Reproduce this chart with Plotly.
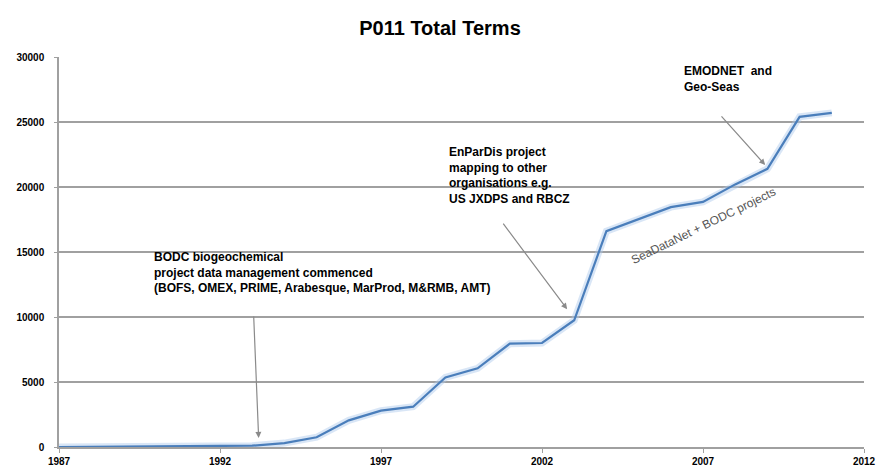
import plotly.graph_objects as go

# ---- data ----
years = list(range(1987, 2012))
terms = [0, 10, 20, 30, 40, 60, 100, 300, 750, 2050, 2800, 3100, 5350, 6050,
         7950, 8000, 9750, 16600, 17500, 18450, 18850, 20200, 21400, 25400, 25700]
x_ticks = [1987, 1992, 1997, 2002, 2007, 2012]
y_ticks = [0, 5000, 10000, 15000, 20000, 25000, 30000]

title_text = "P011 Total Terms"
note_bodc = ("BODC biogeochemical<br>project data management commenced<br>"
             "(BOFS, OMEX, PRIME, Arabesque, MarProd, M&RMB, AMT)")
note_enpardis = "EnParDis project<br>mapping to other<br>organisations e.g.<br>US JXDPS and RBCZ"
note_emodnet = "EMODNET  and<br>Geo-Seas"
note_sdn = "SeaDataNet + BODC projects"

FONT = "Liberation Sans, Arial, sans-serif"
GRID = "#a0a0a0"
ARROW = "#8a8a8a"

fig = go.Figure()
# soft halo under the line
fig.add_trace(go.Scatter(x=years, y=terms, mode="lines",
                         line=dict(color="rgba(170,200,235,0.45)", width=7),
                         hoverinfo="skip", showlegend=False))
fig.add_trace(go.Scatter(x=years, y=terms, mode="lines",
                         line=dict(color="#4a7ebb", width=2.2),
                         showlegend=False))

annotations = []
# text blocks
annotations.append(dict(x=1989.9, y=15300, xref="x", yref="y", text=note_bodc,
                        showarrow=False, xanchor="left", yanchor="top", align="left",
                        font=dict(family=FONT, size=12, color="black", weight="bold")))
annotations.append(dict(x=1999.05, y=23400, xref="x", yref="y", text=note_enpardis,
                        showarrow=False, xanchor="left", yanchor="top", align="left",
                        font=dict(family=FONT, size=12, color="black", weight="bold")))
annotations.append(dict(x=2006.35, y=29600, xref="x", yref="y", text=note_emodnet,
                        showarrow=False, xanchor="left", yanchor="top", align="left",
                        font=dict(family=FONT, size=12, color="black", weight="bold")))
annotations.append(dict(x=2007.0, y=17000, xref="x", yref="y", text=note_sdn,
                        showarrow=False, xanchor="center", yanchor="middle",
                        textangle=-26,
                        font=dict(family=FONT, size=12, color="#555555")))
# arrows
for tip_x, tip_y, ax, ay in [(1993.2, 700, -5, -123),
                             (2002.78, 10600, -65, -87),
                             (2008.93, 21700, -45, -50)]:
    annotations.append(dict(x=tip_x, y=tip_y, xref="x", yref="y", text="",
                            showarrow=True, ax=ax, ay=ay, arrowhead=2,
                            arrowsize=1, arrowwidth=1.2, arrowcolor=ARROW))

fig.update_layout(
    width=880, height=472,
    margin=dict(l=59, r=16, t=57, b=25),
    paper_bgcolor="white", plot_bgcolor="white",
    title=dict(text=title_text, x=0.5, xanchor="center", y=0.94, yanchor="middle",
               font=dict(family=FONT, size=20, color="black", weight="bold")),
    annotations=annotations,
    xaxis=dict(range=[1987, 2012], tickmode="array", tickvals=x_ticks,
               ticktext=[str(v) for v in x_ticks], automargin=False,
               showgrid=False, zeroline=False,
               showline=True, linecolor=GRID, linewidth=1.5,
               ticks="outside", ticklen=4, tickcolor=GRID,
               tickfont=dict(family=FONT, size=10, color="black", weight="bold")),
    yaxis=dict(range=[0, 30000], tickmode="array", tickvals=y_ticks,
               ticktext=[str(v) for v in y_ticks], automargin=False,
               showgrid=True, gridcolor=GRID, gridwidth=1.5, zeroline=False,
               showline=True, linecolor=GRID, linewidth=1.5,
               ticks="outside", ticklen=3, tickcolor=GRID, ticklabelstandoff=8,
               tickfont=dict(family=FONT, size=10, color="black", weight="bold")),
)

fig.write_html("out.html", config={"displayModeBar": False},
               post_script="document.body.style.margin='0';document.body.style.padding='0';")
